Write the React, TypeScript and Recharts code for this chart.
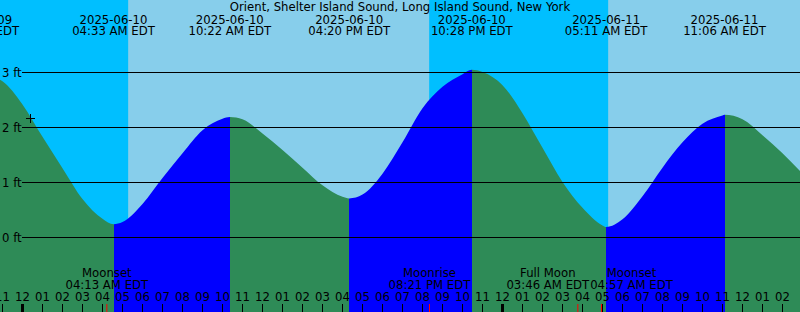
import React from 'react';
import {
  ComposedChart,
  Area,
  XAxis,
  YAxis,
  ReferenceArea,
  ReferenceLine,
  ReferenceDot,
  Label,
} from 'recharts';

// ---------- data ----------
const TITLE = 'Orient, Shelter Island Sound, Long Island Sound, New York';
const TZ = 'EDT';
const BASE_DATE = '2025-06-10';

// tide curve samples: hours since 2025-06-10 00:00 EDT, height in feet
const tideHours = [
  -1.125, -1, 0, 1, 2, 3, 4, 4.55, 5, 6, 7, 8, 9, 10, 10.367, 11, 12, 13, 14, 15, 16, 16.333,
  17, 18, 19, 20, 21, 22, 22.467, 23, 24, 25, 26, 27, 28, 29, 29.183, 30, 31, 32, 33, 34, 35,
  35.1, 36, 37, 38, 38.875,
];
const tideFeet = [
  2.87, 2.84, 2.42, 1.83, 1.26, 0.7, 0.34, 0.24, 0.28, 0.61, 1.08, 1.53, 1.95, 2.16, 2.19, 2.15,
  1.89, 1.59, 1.27, 0.95, 0.74, 0.71, 0.78, 1.16, 1.73, 2.35, 2.74, 2.97, 3.05, 3.01, 2.77, 2.26,
  1.63, 1.01, 0.54, 0.22, 0.19, 0.33, 0.75, 1.27, 1.73, 2.07, 2.22, 2.23, 2.15, 1.86, 1.53, 1.21,
];

// high / low tide events
const extremeDates = ['2025-06-09', '2025-06-10', '2025-06-10', '2025-06-10', '2025-06-10', '2025-06-11', '2025-06-11'];
const extremeTimes = ['09:47 PM', '04:33 AM', '10:22 AM', '04:20 PM', '10:28 PM', '05:11 AM', '11:06 AM'];
const extremeKinds = ['high', 'low', 'high', 'low', 'high', 'low', 'high'];

// sun
const sunriseDates = ['2025-06-10', '2025-06-11'];
const sunriseTimes = ['05:17 AM', '05:17 AM'];
const sunsetDates = ['2025-06-10'];
const sunsetTimes = ['08:20 PM'];

// moon
const moonNames = ['Moonset', 'Moonrise', 'Full Moon', 'Moonset'];
const moonDates = ['2025-06-10', '2025-06-10', '2025-06-11', '2025-06-11'];
const moonTimes = ['04:13 AM', '08:21 PM', '03:46 AM', '04:57 AM'];

// current-time mark
const nowDate = '2025-06-10';
const nowTime = '12:24 AM';
const nowFeet = 2.16;

const gridFeet = [0, 1, 2, 3];

// ---------- layout ----------
const CHART_W = 800;
const CHART_H = 312;
const X_MIN = -1.125;
const X_MAX = 38.875;
const FT_PX = 55;
const ZERO_PX = 237.5;
const Y_MAX = ZERO_PX / FT_PX;
const Y_MIN = -(CHART_H - ZERO_PX) / FT_PX;
const PX_PER_HOUR = CHART_W / (X_MAX - X_MIN);
const GRID_LEFT_PX = 22;

const FONT = '"DejaVu Sans", sans-serif';
const FS = 11.7;

const C_DAY = '#87CEEB';
const C_NIGHT = '#00BFFF';
const C_RISE = '#0000FF';
const C_FALL = '#2E8B57';

// ---------- helpers ----------
function toHours(date: string, time: string): number {
  const [y, m, d] = date.split('-').map(Number);
  const [by, bm, bd] = BASE_DATE.split('-').map(Number);
  const days = (Date.UTC(y, m - 1, d) - Date.UTC(by, bm - 1, bd)) / 86400000;
  const [hm, ap] = time.split(' ');
  let [h, mi] = hm.split(':').map(Number);
  if (ap === 'AM' && h === 12) h = 0;
  if (ap === 'PM' && h !== 12) h += 12;
  return days * 24 + h + mi / 60;
}

let measureCtx: CanvasRenderingContext2D | null = null;
function textWidth(s: string): number {
  try {
    if (!measureCtx) measureCtx = document.createElement('canvas').getContext('2d');
    if (measureCtx) {
      measureCtx.font = `${FS}px "DejaVu Sans"`;
      return measureCtx.measureText(s).width;
    }
  } catch (e) {
    /* ignore */
  }
  return s.length * FS * 0.6;
}

const data = tideHours.map((h, i) => ({ hour: h, feet: tideFeet[i] }));

const extremes = extremeDates.map((d, i) => ({
  t: toHours(d, extremeTimes[i]),
  date: d,
  time: extremeTimes[i],
  kind: extremeKinds[i],
}));

const sunrises = sunriseDates.map((d, i) => toHours(d, sunriseTimes[i]));
const sunsets = sunsetDates.map((d, i) => toHours(d, sunsetTimes[i]));
const nights: { x1: number; x2: number }[] = [];
{
  let start = X_MIN;
  sunrises.forEach((sr, i) => {
    nights.push({ x1: start, x2: sr });
    start = i < sunsets.length ? sunsets[i] : X_MAX;
  });
  if (sunsets.length >= sunrises.length) nights.push({ x1: start, x2: X_MAX });
}

const moonEvents = moonNames.map((name, i) => ({
  name,
  t: toHours(moonDates[i], moonTimes[i]),
  label: `${moonTimes[i]} ${TZ}`,
  shift: 0,
}));
{
  const widths = moonEvents.map((m) => Math.max(textWidth(m.name), textWidth(m.label)));
  const orig = moonEvents.map((m) => (m.t - X_MIN) * PX_PER_HOUR);
  const centers = orig.slice();
  for (let it = 0; it < 20; it++) {
    for (let i = 0; i < centers.length - 1; i++) {
      const need = (widths[i] + widths[i + 1]) / 2 + 1;
      const gap = centers[i + 1] - centers[i];
      if (gap < need) {
        const d = (need - gap) / 2;
        centers[i] -= d;
        centers[i + 1] += d;
      }
    }
  }
  moonEvents.forEach((m, i) => (m.shift = centers[i] - orig[i]));
}

const hourTicks: number[] = [];
for (let h = Math.ceil(X_MIN); h <= Math.floor(X_MAX); h++) hourTicks.push(h);
const bottomTicks = [...hourTicks, ...moonEvents.map((m) => m.t)];

const nowHour = toHours(nowDate, nowTime);

// gradient stops for rising / falling fill
const offsetOf = (t: number) => Math.min(1, Math.max(0, (t - X_MIN) / (X_MAX - X_MIN)));
const colorBefore = (k: string) => (k === 'low' ? C_FALL : C_RISE);
const colorAfter = (k: string) => (k === 'low' ? C_RISE : C_FALL);
const stops: { o: number; c: string }[] = [];
stops.push({ o: 0, c: colorBefore(extremes[0].kind) });
extremes.forEach((e) => {
  stops.push({ o: offsetOf(e.t), c: colorBefore(e.kind) });
  stops.push({ o: offsetOf(e.t), c: colorAfter(e.kind) });
});
stops.push({ o: 1, c: colorAfter(extremes[extremes.length - 1].kind) });

// ---------- tick renderers ----------
const textProps = { fontFamily: FONT, fontSize: FS, fill: '#000', stroke: 'none' };

function BottomTick(props: any) {
  const { x, payload } = props;
  const t = payload.value as number;
  const moon = moonEvents.find((m) => Math.abs(m.t - t) < 1e-9);
  if (moon) {
    const cx = x + moon.shift;
    return (
      <g>
        <line x1={x} x2={x} y1={304} y2={CHART_H} stroke="#ff0000" strokeWidth={1} />
        <text x={cx} y={277} textAnchor="middle" {...textProps}>
          {moon.name}
        </text>
        <text x={cx} y={289} textAnchor="middle" {...textProps}>
          {moon.label}
        </text>
      </g>
    );
  }
  const h = ((t % 24) + 24) % 24;
  const h12 = h % 12 === 0 ? 12 : h % 12;
  const label = String(h12).padStart(2, '0');
  return (
    <g>
      <line x1={x} x2={x} y1={304} y2={CHART_H} stroke="#000" strokeWidth={h === 0 ? 3 : 1} />
      <text x={x} y={301} textAnchor="middle" {...textProps}>
        {label}
      </text>
    </g>
  );
}

function TopTick(props: any) {
  const { x, payload } = props;
  const e = extremes.find((ev) => Math.abs(ev.t - payload.value) < 1e-9);
  if (!e) return <g />;
  return (
    <g>
      <text x={x} y={24} textAnchor="middle" {...textProps}>
        {e.date}
      </text>
      <text x={x} y={35} textAnchor="middle" {...textProps}>
        {`${e.time} ${TZ}`}
      </text>
    </g>
  );
}

function FeetTick(props: any) {
  const { y, payload } = props;
  return (
    <text x={2} y={y + 4} textAnchor="start" {...textProps}>
      {`${payload.value} ft`}
    </text>
  );
}

function PlusMark(props: any) {
  const cx = Math.floor(props.cx) + 0.5;
  const cy = Math.floor(props.cy) + 0.5;
  return (
    <g>
      <line x1={cx - 4.5} x2={cx + 4.5} y1={cy} y2={cy} stroke="#000" strokeWidth={1} />
      <line x1={cx} x2={cx} y1={cy - 4.5} y2={cy + 4.5} stroke="#000" strokeWidth={1} />
    </g>
  );
}

const TitleText = () => (
  <text x={CHART_W / 2} y={11} textAnchor="middle" {...textProps}>
    {TITLE}
  </text>
);

const gridStart = X_MIN + GRID_LEFT_PX / PX_PER_HOUR;

export default function App() {
  return (
    <div style={{ position: 'absolute', left: 0, top: 0, width: CHART_W, height: CHART_H }}>
      <ComposedChart
        width={CHART_W}
        height={CHART_H}
        data={data}
        margin={{ top: 0, right: 0, bottom: 0, left: 0 }}
        style={{ background: C_DAY }}
      >
        <defs>
          <linearGradient id="tideFill" gradientUnits="userSpaceOnUse" x1={0} y1={0} x2={CHART_W} y2={0}>
            {stops.map((s, i) => (
              <stop key={i} offset={s.o} stopColor={s.c} />
            ))}
          </linearGradient>
        </defs>
        {nights.map((n, i) => (
          <ReferenceArea
            key={`n${i}`}
            x1={n.x1}
            x2={n.x2}
            y1={Y_MIN}
            y2={Y_MAX}
            fill={C_NIGHT}
            fillOpacity={1}
            stroke="none"
            ifOverflow="hidden"
          />
        ))}
        <Area
          dataKey="feet"
          type="monotone"
          stroke="none"
          fill="url(#tideFill)"
          fillOpacity={1}
          baseValue={Y_MIN}
          isAnimationActive={false}
          dot={false}
          activeDot={false}
        />
        {gridFeet.map((f) => (
          <ReferenceLine
            key={`g${f}`}
            segment={[
              { x: gridStart, y: f },
              { x: X_MAX, y: f },
            ]}
            stroke="#000"
            strokeWidth={1}
          />
        ))}
        <ReferenceDot x={nowHour} y={nowFeet} r={5} shape={(p: any) => <PlusMark {...p} />} />
        <XAxis
          dataKey="hour"
          type="number"
          domain={[X_MIN, X_MAX]}
          allowDataOverflow
          ticks={bottomTicks}
          interval={0}
          height={30}
          mirror
          axisLine={false}
          tickLine={false}
          tick={(p: any) => <BottomTick {...p} />}
        />
        <XAxis
          xAxisId="top"
          dataKey="hour"
          orientation="top"
          type="number"
          domain={[X_MIN, X_MAX]}
          allowDataOverflow
          ticks={extremes.map((e) => e.t)}
          interval={0}
          height={30}
          mirror
          axisLine={false}
          tickLine={false}
          tick={(p: any) => <TopTick {...p} />}
        >
          <Label content={() => <TitleText />} />
        </XAxis>
        <YAxis
          type="number"
          domain={[Y_MIN, Y_MAX]}
          allowDataOverflow
          ticks={gridFeet}
          interval={0}
          width={30}
          mirror
          axisLine={false}
          tickLine={false}
          tick={(p: any) => <FeetTick {...p} />}
        />
      </ComposedChart>
    </div>
  );
}
